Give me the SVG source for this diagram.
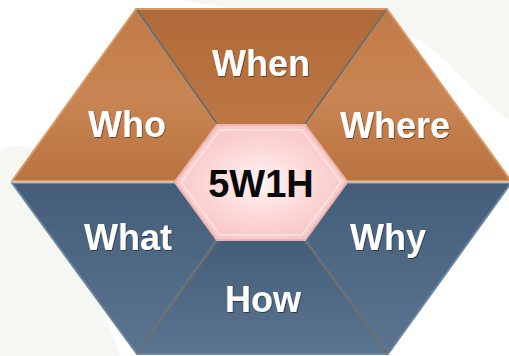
<svg xmlns="http://www.w3.org/2000/svg" width="509" height="356" viewBox="0 0 509 356">
<defs>
<linearGradient id="gBrown" x1="0" y1="0" x2="0" y2="1">
<stop offset="0" stop-color="#C07A48"/>
<stop offset="0.5" stop-color="#C98553"/>
<stop offset="1" stop-color="#B87340"/>
</linearGradient>
<linearGradient id="gBrownTop" x1="0" y1="0" x2="0" y2="1">
<stop offset="0" stop-color="#B06A39"/>
<stop offset="1" stop-color="#BC7744"/>
</linearGradient>
<linearGradient id="gBlue" x1="0" y1="0" x2="0" y2="1">
<stop offset="0" stop-color="#445E7A"/>
<stop offset="1" stop-color="#5B7591"/>
</linearGradient>
<radialGradient id="gPink" cx="0.5" cy="0.5" r="0.6">
<stop offset="0" stop-color="#FFF4F4"/>
<stop offset="0.6" stop-color="#FCD2D2"/>
<stop offset="1" stop-color="#F7C2C2"/>
</radialGradient>
<filter id="ts" x="-10%" y="-10%" width="120%" height="130%">
<feDropShadow dx="0.8" dy="1" stdDeviation="0.6" flood-color="#000000" flood-opacity="0.45"/>
</filter>
</defs>
<style>
.lbl{font-family:"Liberation Sans",Arial,sans-serif;font-weight:bold;font-size:36px;fill:#FFFFFF;text-anchor:middle;filter:url(#ts)}
.ctr{font-family:"Liberation Sans",Arial,sans-serif;font-weight:bold;font-size:38px;fill:#0A0A0A;text-anchor:middle}
.brn{stroke:#D99A68;stroke-width:2;stroke-linejoin:round}
.blu{stroke:#6C86A0;stroke-width:2;stroke-linejoin:round}
.sh{stroke:#6B6B6B;stroke-width:2;fill:none}
</style>
<rect width="509" height="356" fill="#FFFFFF"/>
<g id="background" opacity="0.6">
<path d="M0,150 C20,140 40,150 60,160 L60,356 L0,356 Z" fill="#EEF3EA"/>
<path d="M40,200 C60,230 70,270 100,300 L120,356 L30,356 Z" fill="#EEF3EA"/>
<path d="M180,0 L509,0 L509,120 C480,100 450,60 420,40 C380,20 300,20 180,0 Z" fill="#EEF3EA"/>
</g>
<g id="when">
<polygon class="brn" points="136,9 387,9 305,125 217,125" fill="url(#gBrownTop)"/>
<text class="lbl" x="261" y="76">When</text>
</g>
<g id="who">
<polygon class="brn" points="136,9 217,125 175,181 12,181" fill="url(#gBrown)"/>
<text class="lbl" x="127" y="137">Who</text>
</g>
<g id="where">
<polygon class="brn" points="387,9 511,181 347,181 305,125" fill="url(#gBrown)"/>
<text class="lbl" x="395" y="138">Where</text>
</g>
<g id="what">
<polygon class="blu" points="12,183 175,183 217,240 137,354" fill="url(#gBlue)"/>
<text class="lbl" x="128" y="250">What</text>
</g>
<g id="how">
<polygon class="blu" points="217,240 305,240 388,354 137,354" fill="url(#gBlue)"/>
<text class="lbl" x="263" y="312">How</text>
</g>
<g id="why">
<polygon class="blu" points="347,183 511,183 388,354 305,240" fill="url(#gBlue)"/>
<text class="lbl" x="388" y="250">Why</text>
</g>
<g id="connectors">
<line class="sh" x1="137" y1="10" x2="217" y2="124"/>
<line class="sh" x1="386" y1="10" x2="305" y2="124"/>
<line class="sh" x1="217" y1="241" x2="138" y2="353"/>
<line class="sh" x1="305" y1="241" x2="387" y2="353"/>
<line x1="12" y1="182" x2="175" y2="182" stroke="#E8C9A8" stroke-width="1.5"/>
<line x1="347" y1="182" x2="511" y2="182" stroke="#E8C9A8" stroke-width="1.5"/>
</g>
<g id="center">
<polygon points="175,182 217,125 305,125 347,182 305,240 217,240" fill="url(#gPink)" stroke="#EDB4B4" stroke-width="2"/>
<polygon points="181,182 220,130 302,130 341,182 302,235 220,235" fill="none" stroke="#FFE4E4" stroke-width="1.5"/>
<text class="ctr" x="261" y="197">5W1H</text>
</g>
</svg>
